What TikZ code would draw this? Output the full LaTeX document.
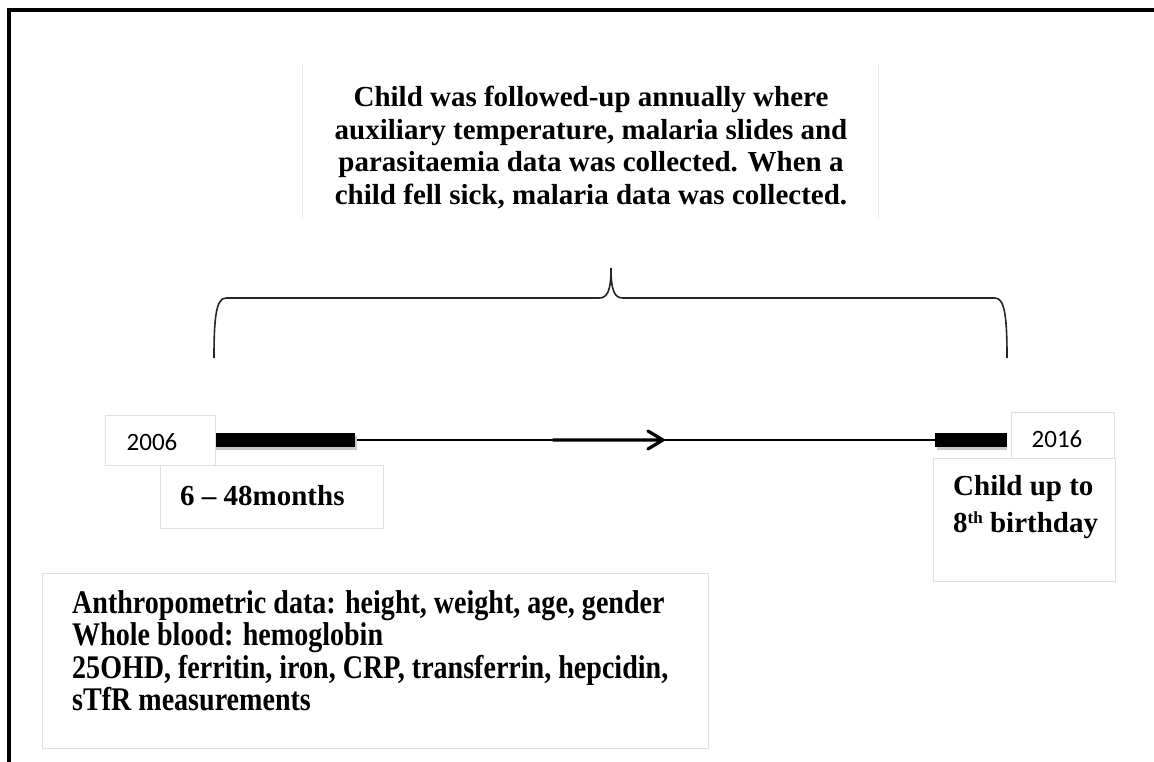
\documentclass[tikz,border=0pt]{standalone}
\usepackage{fontspec}
\setmainfont{Liberation Serif}
\newfontfamily\yearfont{Carlito}
\newfontfamily\narrowfont{Liberation Serif}[FakeStretch=0.85]
\usetikzlibrary{calc}

\tikzset{
	lightbox/.style={draw=black!12, line width=0.8pt, fill=white, inner sep=0pt},
	yeartext/.style={font=\yearfont\fontsize{25}{30}\selectfont, inner sep=0pt},
	boldtext/.style={font=\bfseries\fontsize{29}{32.5}\selectfont},
	timeline/.style={line width=2.8pt},
	thickbar/.style={line width=14pt},
}

\begin{document}
\begin{tikzpicture}[x=1pt, y=-1pt]
			%%%%% START %%%%%
			\useasboundingbox (0, 0) rectangle (1154, 762);
			\fill[white] (0, 0) rectangle (1154, 762);
			
			% frame
			\draw[line width=3.5pt] (9, 764) -- (9, 10) -- (1156, 10);
			
			% text above the brace
			\node[boldtext, align=center, minimum width=575, minimum height=153] (follow) at (590.5, 141.5) {};
			\node[boldtext, align=center] (followtxt) at (591, 147.5) {Child was followed-up annually where\\auxiliary temperature, malaria slides and\\parasitaemia data was collected. When a\\child fell sick, malaria data was collected.};
			\draw[black!8, line width=0.8pt] (follow.north west) -- (follow.south west);
			\draw[black!8, line width=0.8pt] (follow.north east) -- (follow.south east);
			
			% brace
			\coordinate (bl) at (214, 358);
			\coordinate (br) at (1007, 358);
			\coordinate (tip) at (611, 268);
			\draw[line width=1.6pt, black!85]
				(bl) .. controls (214, 318) and (216, 298) .. (226, 298)
				-- (599, 298) .. controls (607, 298) and (611, 292) .. (tip)
				.. controls (611, 292) and (615, 298) .. (623, 298)
				-- (995, 298) .. controls (1005, 298) and (1007, 318) .. (br);
			
			% timeline
			\coordinate (t0) at (214, 440);
			\coordinate (t1) at (355, 440);
			\coordinate (t2) at (935, 440);
			\coordinate (t3) at (1007, 440);
			\coordinate (a1) at (553, 440);
			\coordinate (a2) at (663, 440);
			\draw[timeline] (t0) -- (t3);
			\draw[thickbar, black!22] ($(t0)+(2, 3)$) -- ($(t1)+(2, 3)$);
			\draw[thickbar] (t0) -- (t1);
			\draw[thickbar, black!22] ($(t2)+(2, 3)$) -- ($(t3)+(0, 3)$);
			\draw[thickbar] (t2) -- (t3);
			\draw[line width=3.2pt, line cap=round, line join=round] (a1) -- (a2) (648, 431) -- (a2) -- (648, 449);
			
			% years
			\node[lightbox, minimum width=110, minimum height=50] (y2006) at (160.5, 440) {};
			\node[yeartext] (t2006) at (152, 442) {2006};
			\node[lightbox, minimum width=103, minimum height=46] (y2016) at (1063, 435) {};
			\node[yeartext] (t2016) at (1057, 439) {2016};
			
			% labels below the timeline
			\node[lightbox, minimum width=223, minimum height=63] (months) at (272, 496.5) {};
			\node[boldtext, anchor=west, inner sep=0pt] (monthstxt) at (180, 496) {6 -- 48months};
			\node[lightbox, minimum width=182, minimum height=123, anchor=north west] (child) at (933, 458) {};
			\node[boldtext, align=left, anchor=north west, inner sep=0pt, font=\bfseries\fontsize{29}{37}\selectfont] (childtxt) at (953, 475) {Child up to\\8{\fontsize{17}{17}\selectfont\raisebox{9pt}{th}} birthday};
			
			% collected data
			\node[lightbox, minimum width=666, minimum height=175, anchor=north west] (data) at (42, 573) {};
			\node[font=\narrowfont\bfseries\fontsize{33}{32.5}\selectfont, align=left, anchor=west, inner sep=0pt] (datatxt) at (72, 650.5) {Anthropometric data: height, weight, age, gender\\Whole blood: hemoglobin\\25OHD, ferritin, iron, CRP, transferrin, hepcidin,\\sTfR measurements};
			
			%%%%% END %%%%%
		\end{tikzpicture}
\end{document}
